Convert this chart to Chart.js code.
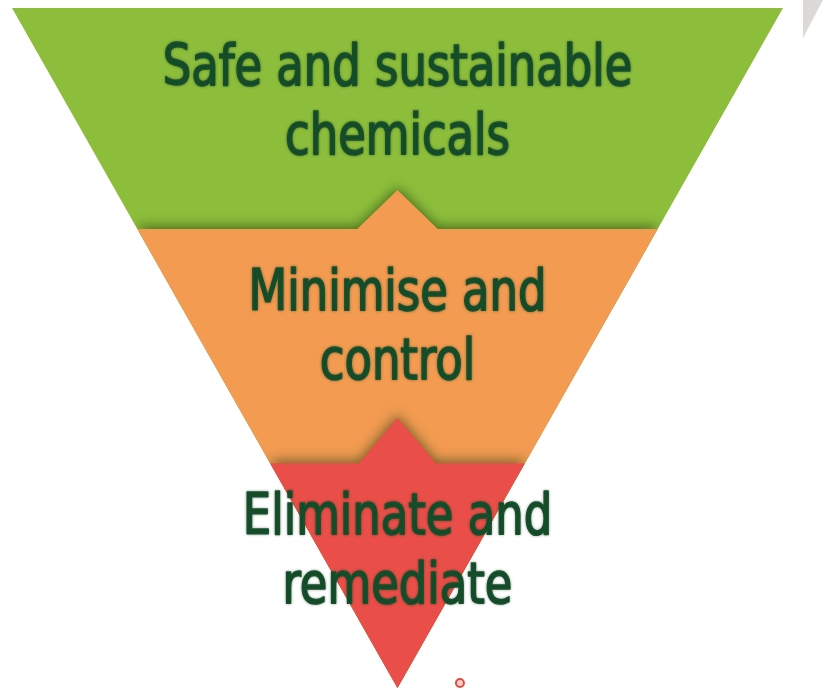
<!DOCTYPE html>
<html><head><meta charset="utf-8">
<script src="https://cdn.jsdelivr.net/npm/chart.js@4.4.0/dist/chart.umd.min.js"></script>
<style>html,body{margin:0;padding:0;background:#fff;overflow:hidden}</style>
</head><body>
<canvas id="c" width="828" height="691"></canvas>
<script>
// ---- data ----
const bandLines  = [["Safe and sustainable","chemicals"],["Minimise and","control"],["Eliminate and","remediate"]];
const bandTop    = [100, 67.5, 33];     // level of each band's top edge (0 = tip, 100 = rim)
const arrowTip   = [null, 73.2, 39.7];  // level of the upward arrow tip of each band
const arrowHalf  = [0, 5.2, 5.0];       // half width of arrow base
const labelLevel = [86.6, 53.6, 20.7];  // vertical centre of each band label
const bandColors = ["#8dbe3b", "#f29b51", "#e94f48"];
const textColor  = "#17502d";
const wedge      = [[52.6,101.2],[55.2,101.2],[52.6,95.6]];
const dot        = [{x:8.1, y:0.74}];
const X_RANGE = [-51.56, 55.84];
const Y_RANGE = [-0.44, 101.18];

function bandPolygon(i){
  const t = bandTop[i], pts = [{x:-t/2, y:t}];
  if (arrowTip[i] !== null){
    pts.push({x:-arrowHalf[i], y:t}, {x:0, y:arrowTip[i]}, {x:arrowHalf[i], y:t});
  }
  pts.push({x:t/2, y:t}, {x:0, y:0}, {x:-t/2, y:t});
  return pts;
}

const datasets = bandColors.map((c,i)=>({
  data: bandPolygon(i), borderWidth:0, borderColor:c, backgroundColor:c,
  fill:'shape', pointRadius:0, tension:0, order:10-i, clip:false
}));
datasets.push({data: wedge.concat([wedge[0]]).map(p=>({x:p[0],y:p[1]})), borderWidth:0,
  backgroundColor:'#dcd9d6', borderColor:'#dcd9d6', fill:'shape', pointRadius:0, order:5, clip:false});
datasets.push({data: dot, showLine:false, pointRadius:4, pointBorderWidth:2,
  pointBorderColor:'#e24a40', pointBackgroundColor:'#f7d0cb', order:0, clip:false});

function tracePath(ctx, meta){
  ctx.beginPath();
  meta.data.forEach((p,j)=>{ if(j===0) ctx.moveTo(p.x,p.y); else ctx.lineTo(p.x,p.y); });
  ctx.closePath();
}

const FONT_PX = 57, SX = 0.875, LINE_H = 69;

const pyramidPlugin = {
  id:'pyramid',
  afterDatasetDraw(chart, args){
    const i = args.index + 1;
    if (i < 1 || i > 2) return;
    const ctx = chart.ctx;
    ctx.save();
    tracePath(ctx, chart.getDatasetMeta(0));
    ctx.clip();
    ctx.shadowColor = 'rgba(20,50,10,0.55)';
    ctx.shadowBlur = 12;
    ctx.shadowOffsetY = -3;
    ctx.fillStyle = bandColors[i];
    tracePath(ctx, chart.getDatasetMeta(i));
    ctx.fill();
    ctx.restore();
  },
  afterDatasetsDraw(chart){
    const ctx = chart.ctx, xs = chart.scales.x, ys = chart.scales.y;
    ctx.save();
    ctx.fillStyle = textColor;
    ctx.strokeStyle = textColor;
    ctx.lineWidth = 1.6;
    ctx.lineJoin = 'round';
    ctx.font = FONT_PX + 'px "DejaVu Sans Condensed", "DejaVu Sans", sans-serif';
    ctx.textAlign = 'center';
    ctx.textBaseline = 'alphabetic';
    const capHalf = FONT_PX * 0.729 / 2;
    bandLines.forEach((lines,i)=>{
      const cx = xs.getPixelForValue(0), cy = ys.getPixelForValue(labelLevel[i]);
      lines.forEach((s,k)=>{
        const y = cy + (k - (lines.length-1)/2)*LINE_H + capHalf;
        ctx.save();
        ctx.translate(cx, y);
        ctx.scale(SX, 1);
        ctx.shadowColor = 'rgba(10,40,10,0.35)';
        ctx.shadowBlur = 3;
        ctx.fillText(s, 0, 0);
        ctx.strokeText(s, 0, 0);
        ctx.restore();
      });
    });
    ctx.restore();
  }
};

new Chart(document.getElementById('c'), {
  type:'line',
  data:{datasets},
  options:{
    responsive:false, animation:false, events:[],
    layout:{padding:0, autoPadding:false},
    plugins:{legend:{display:false}, tooltip:{enabled:false}},
    scales:{
      x:{type:'linear', min:X_RANGE[0], max:X_RANGE[1], display:false},
      y:{type:'linear', min:Y_RANGE[0], max:Y_RANGE[1], display:false}
    }
  },
  plugins:[pyramidPlugin]
});
</script>
</body></html>
